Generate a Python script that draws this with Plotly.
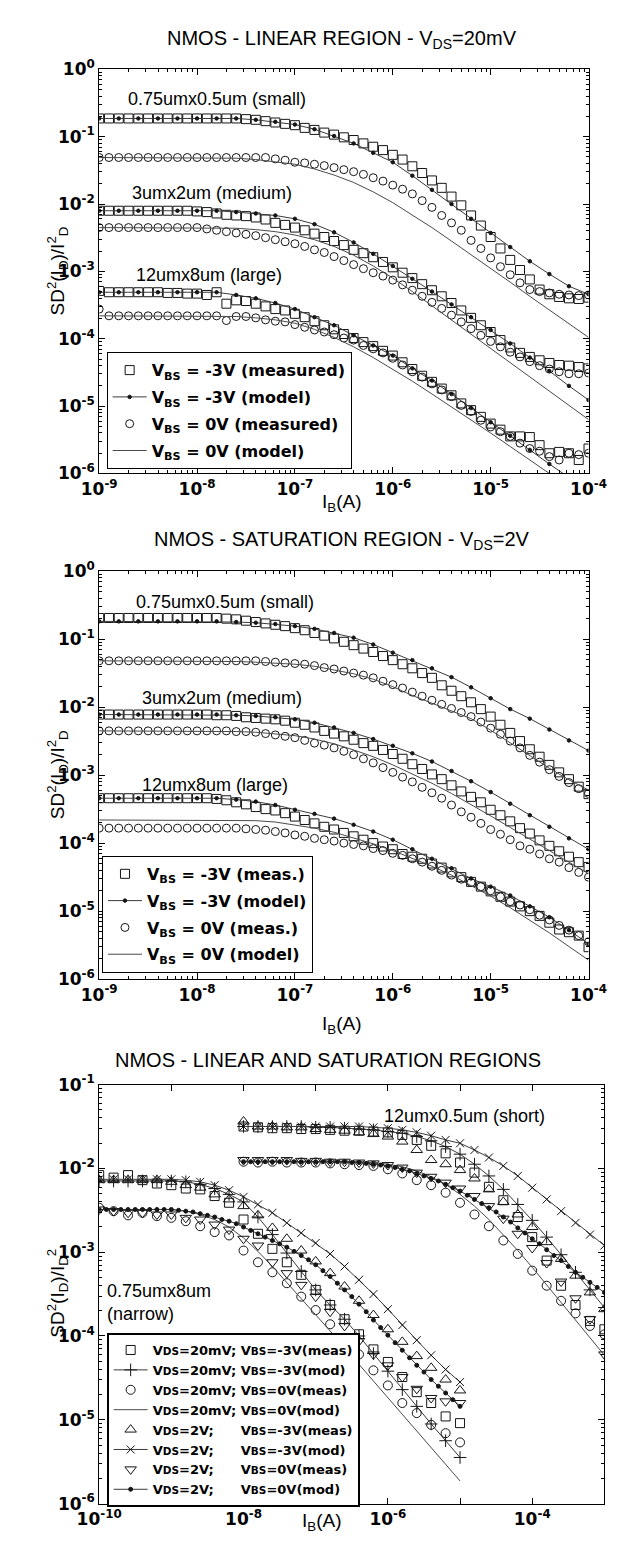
import plotly.graph_objects as go

# ---------------- x grids: log10(I_B / A) ----------------
IB_P12_MEAS = [-9.0, -8.9, -8.8, -8.7, -8.6, -8.5, -8.4, -8.3, -8.2, -8.1, -8.0, -7.9, -7.8, -7.7, -7.6, -7.5, -7.4,
               -7.3, -7.2, -7.1, -7.0, -6.9, -6.8, -6.7, -6.6, -6.5, -6.4, -6.3, -6.2, -6.1, -6.0, -5.9, -5.8, -5.7,
               -5.6, -5.5, -5.4, -5.3, -5.2, -5.1, -5.0, -4.9, -4.8, -4.7, -4.6, -4.5, -4.4, -4.3, -4.2, -4.1, -4.0]
IB_P12_MOD = [-9.0, -8.8, -8.6, -8.4, -8.2, -8.0, -7.8, -7.6, -7.4, -7.2, -7.0, -6.8, -6.6, -6.4, -6.2, -6.0, -5.8,
              -5.6, -5.4, -5.2, -5.0, -4.8, -4.6, -4.4, -4.2, -4.0]
IB_NAR = [-10.0, -9.8, -9.6, -9.4, -9.2, -9.0, -8.8, -8.6, -8.4, -8.2, -8.0, -7.8, -7.6, -7.4, -7.2, -7.0, -6.8,
          -6.6, -6.4, -6.2, -6.0, -5.8, -5.6, -5.4, -5.2, -5.0]
IB_NAR_FINE = [-10.0, -9.9, -9.8, -9.7, -9.6, -9.5, -9.4, -9.3, -9.2, -9.1, -9.0, -8.9, -8.8, -8.7, -8.6, -8.5, -8.4,
               -8.3, -8.2, -8.1, -8.0, -7.9, -7.8, -7.7, -7.6, -7.5, -7.4, -7.3, -7.2, -7.1, -7.0, -6.9, -6.8, -6.7,
               -6.6, -6.5, -6.4, -6.3, -6.2, -6.1, -6.0, -5.9, -5.8, -5.7, -5.6, -5.5, -5.4, -5.3, -5.2, -5.1, -5.0]
IB_SH = [-8.0, -7.8, -7.6, -7.4, -7.2, -7.0, -6.8, -6.6, -6.4, -6.2, -6.0, -5.8, -5.6, -5.4, -5.2, -5.0, -4.8,
         -4.6, -4.4, -4.2, -4.0, -3.8, -3.6, -3.4, -3.2, -3.0]
IB_SH_FINE = [-8.0, -7.9, -7.8, -7.7, -7.6, -7.5, -7.4, -7.3, -7.2, -7.1, -7.0, -6.9, -6.8, -6.7, -6.6, -6.5, -6.4,
              -6.3, -6.2, -6.1, -6.0, -5.9, -5.8, -5.7, -5.6, -5.5, -5.4, -5.3, -5.2, -5.1, -5.0, -4.9, -4.8, -4.7,
              -4.6, -4.5, -4.4, -4.3, -4.2, -4.1, -4.0, -3.9, -3.8, -3.7, -3.6, -3.5, -3.4, -3.3, -3.2, -3.1, -3.0]

# ---------------- Panel 1: linear region, log10(SD^2(ID)/ID^2) ----------------
LIN_SMALL_M3_MEAS = [-0.73, -0.73, -0.73, -0.73, -0.73, -0.73, -0.73, -0.73, -0.73, -0.73, -0.73, -0.73, -0.73, -0.73,
                     -0.73, -0.74, -0.75, -0.77, -0.79, -0.81, -0.83, -0.87, -0.90, -0.94, -0.97, -1.01, -1.05, -1.10,
                     -1.15, -1.20, -1.27, -1.34, -1.44, -1.54, -1.65, -1.76, -1.89, -2.02, -2.17, -2.32, -2.49, -2.66,
                     -2.83, -2.98, -3.12, -3.27, -3.34, -3.38, -3.40, -3.41, -3.39]
LIN_SMALL_M3_MOD = [-0.73, -0.73, -0.73, -0.73, -0.73, -0.73, -0.73, -0.73, -0.75, -0.78, -0.82, -0.89, -0.99, -1.10,
                    -1.24, -1.38, -1.58, -1.79, -2.00, -2.22, -2.43, -2.64, -2.85, -3.04, -3.22, -3.34]
LIN_SMALL_0_MEAS = [-1.31, -1.31, -1.31, -1.31, -1.31, -1.31, -1.31, -1.31, -1.31, -1.31, -1.31, -1.31, -1.31, -1.31,
                    -1.31, -1.31, -1.31, -1.31, -1.33, -1.35, -1.38, -1.39, -1.41, -1.43, -1.46, -1.49, -1.52, -1.56,
                    -1.61, -1.66, -1.72, -1.78, -1.85, -1.95, -2.05, -2.17, -2.28, -2.39, -2.54, -2.66, -2.80, -2.93,
                    -3.05, -3.17, -3.27, -3.30, -3.32, -3.34, -3.35, -3.36, -3.35]
LIN_SMALL_0_MOD = [-1.31, -1.31, -1.31, -1.31, -1.31, -1.31, -1.31, -1.32, -1.34, -1.37, -1.41, -1.48, -1.57, -1.68,
                   -1.82, -1.98, -2.16, -2.35, -2.55, -2.75, -2.95, -3.16, -3.37, -3.57, -3.78, -3.98]
LIN_MED_M3_MEAS = [-2.10, -2.10, -2.10, -2.10, -2.10, -2.10, -2.10, -2.10, -2.10, -2.10, -2.11, -2.12, -2.14, -2.16,
                   -2.17, -2.18, -2.20, -2.23, -2.28, -2.31, -2.35, -2.39, -2.44, -2.49, -2.55, -2.61, -2.68, -2.73,
                   -2.79, -2.86, -2.94, -3.02, -3.10, -3.19, -3.28, -3.37, -3.47, -3.58, -3.69, -3.80, -3.90, -4.02,
                   -4.13, -4.21, -4.27, -4.32, -4.36, -4.39, -4.40, -4.42, -4.44]
LIN_MED_M3_MOD = [-2.10, -2.10, -2.10, -2.10, -2.10, -2.10, -2.10, -2.12, -2.14, -2.17, -2.22, -2.30, -2.42, -2.57,
                  -2.74, -2.92, -3.11, -3.30, -3.49, -3.68, -3.87, -4.07, -4.28, -4.48, -4.70, -4.91]
LIN_MED_0_MEAS = [-2.35, -2.35, -2.35, -2.35, -2.35, -2.35, -2.35, -2.35, -2.35, -2.35, -2.35, -2.37, -2.39, -2.41,
                  -2.43, -2.45, -2.47, -2.50, -2.53, -2.56, -2.59, -2.63, -2.68, -2.72, -2.78, -2.84, -2.90, -2.96,
                  -3.02, -3.07, -3.13, -3.20, -3.28, -3.37, -3.46, -3.55, -3.65, -3.75, -3.85, -3.95, -4.04, -4.12,
                  -4.20, -4.27, -4.34, -4.40, -4.45, -4.49, -4.52, -4.52, -4.51]
LIN_MED_0_MOD = [-2.35, -2.35, -2.35, -2.35, -2.35, -2.35, -2.35, -2.36, -2.38, -2.41, -2.46, -2.53, -2.63, -2.76,
                 -2.92, -3.10, -3.30, -3.51, -3.72, -3.93, -4.14, -4.35, -4.56, -4.77, -4.98, -5.20]
LIN_LARGE_M3_MEAS = [-3.29, -3.31, -3.31, -3.31, -3.31, -3.31, -3.31, -3.32, -3.32, -3.33, -3.33, -3.35, -3.31, -3.48,
                     -3.43, -3.44, -3.48, -3.52, -3.56, -3.58, -3.63, -3.68, -3.74, -3.80, -3.86, -3.93, -3.99, -4.05,
                     -4.11, -4.18, -4.25, -4.35, -4.45, -4.55, -4.64, -4.74, -4.84, -4.96, -5.06, -5.16, -5.26, -5.35,
                     -5.45, -5.45, -5.46, -5.58, -5.70, -5.68, -5.70, -5.80, -5.63]
LIN_LARGE_M3_MOD = [-3.31, -3.31, -3.31, -3.31, -3.31, -3.31, -3.31, -3.35, -3.40, -3.47, -3.56, -3.68, -3.80, -3.95,
                    -4.10, -4.25, -4.44, -4.62, -4.82, -5.03, -5.24, -5.44, -5.65, -5.86, -6.06, -6.26]
LIN_LARGE_0_MEAS = [-3.56, -3.66, -3.66, -3.66, -3.66, -3.66, -3.66, -3.66, -3.66, -3.66, -3.66, -3.66, -3.66, -3.73,
                    -3.67, -3.67, -3.69, -3.72, -3.74, -3.75, -3.79, -3.83, -3.87, -3.90, -3.94, -3.99, -4.02, -4.10,
                    -4.15, -4.21, -4.29, -4.39, -4.49, -4.57, -4.67, -4.76, -4.86, -4.99, -5.08, -5.21, -5.31, -5.38,
                    -5.45, -5.55, -5.63, -5.67, -5.75, -5.80, -5.70, -5.72, -5.70]
LIN_LARGE_0_MOD = [-3.66, -3.66, -3.66, -3.66, -3.66, -3.66, -3.66, -3.67, -3.69, -3.72, -3.77, -3.86, -3.98, -4.12,
                   -4.28, -4.45, -4.63, -4.82, -5.01, -5.20, -5.40, -5.60, -5.80, -6.00, -6.20, -6.40]

# ---------------- Panel 2: saturation region ----------------
SAT_SMALL_M3_MEAS = [-0.69, -0.69, -0.69, -0.69, -0.69, -0.69, -0.69, -0.69, -0.69, -0.69, -0.69, -0.69, -0.69, -0.70,
                     -0.71, -0.73, -0.75, -0.77, -0.79, -0.81, -0.84, -0.87, -0.91, -0.95, -0.99, -1.04, -1.09, -1.14,
                     -1.19, -1.25, -1.31, -1.37, -1.43, -1.50, -1.57, -1.68, -1.76, -1.84, -1.93, -2.03, -2.14, -2.26,
                     -2.38, -2.50, -2.62, -2.73, -2.85, -2.96, -3.06, -3.17, -3.28]
SAT_SMALL_M3_MOD = [-0.74, -0.74, -0.74, -0.74, -0.74, -0.74, -0.74, -0.75, -0.76, -0.78, -0.81, -0.85, -0.91, -0.98,
                    -1.08, -1.20, -1.31, -1.43, -1.56, -1.71, -1.87, -2.03, -2.17, -2.33, -2.49, -2.64]
SAT_SMALL_0_MEAS = [-1.32, -1.32, -1.32, -1.32, -1.32, -1.32, -1.32, -1.32, -1.32, -1.32, -1.32, -1.32, -1.32, -1.32,
                    -1.32, -1.32, -1.32, -1.33, -1.34, -1.35, -1.36, -1.37, -1.39, -1.42, -1.44, -1.47, -1.50, -1.53,
                    -1.57, -1.62, -1.67, -1.72, -1.78, -1.84, -1.90, -1.96, -2.02, -2.08, -2.14, -2.22, -2.31, -2.40,
                    -2.50, -2.60, -2.71, -2.81, -2.92, -3.02, -3.11, -3.20, -3.27]
SAT_SMALL_0_MOD = [-1.32, -1.32, -1.32, -1.32, -1.32, -1.32, -1.32, -1.33, -1.34, -1.35, -1.37, -1.40, -1.45, -1.51,
                   -1.59, -1.70, -1.83, -1.94, -2.05, -2.17, -2.34, -2.53, -2.72, -2.90, -3.07, -3.22]
SAT_MED_M3_MEAS = [-2.11, -2.11, -2.11, -2.11, -2.11, -2.11, -2.11, -2.11, -2.11, -2.11, -2.11, -2.11, -2.12, -2.12,
                   -2.13, -2.15, -2.16, -2.17, -2.18, -2.20, -2.23, -2.26, -2.30, -2.35, -2.39, -2.43, -2.48, -2.53,
                   -2.57, -2.63, -2.69, -2.76, -2.84, -2.91, -2.99, -3.06, -3.15, -3.24, -3.32, -3.40, -3.51, -3.59,
                   -3.68, -3.78, -3.86, -3.96, -4.04, -4.12, -4.20, -4.28, -4.35]
SAT_MED_M3_MOD = [-2.11, -2.11, -2.11, -2.11, -2.11, -2.11, -2.11, -2.12, -2.13, -2.15, -2.18, -2.23, -2.30, -2.38,
                  -2.47, -2.57, -2.68, -2.80, -2.94, -3.09, -3.25, -3.42, -3.59, -3.76, -3.93, -4.09]
SAT_MED_0_MEAS = [-2.35, -2.35, -2.35, -2.35, -2.35, -2.35, -2.35, -2.35, -2.35, -2.35, -2.35, -2.35, -2.35, -2.35,
                  -2.36, -2.36, -2.37, -2.39, -2.41, -2.43, -2.45, -2.49, -2.53, -2.56, -2.60, -2.65, -2.70, -2.76,
                  -2.82, -2.89, -2.96, -3.03, -3.10, -3.18, -3.26, -3.34, -3.44, -3.54, -3.62, -3.71, -3.80, -3.87,
                  -3.95, -4.04, -4.09, -4.16, -4.23, -4.28, -4.36, -4.43, -4.50]
SAT_MED_0_MOD = [-2.35, -2.35, -2.35, -2.35, -2.35, -2.35, -2.35, -2.36, -2.37, -2.39, -2.42, -2.47, -2.54, -2.63,
                 -2.73, -2.85, -2.98, -3.12, -3.27, -3.43, -3.60, -3.77, -3.94, -4.11, -4.28, -4.45]
SAT_LARGE_M3_MEAS = [-3.34, -3.34, -3.34, -3.34, -3.34, -3.34, -3.34, -3.34, -3.34, -3.34, -3.34, -3.34, -3.35, -3.37,
                     -3.40, -3.43, -3.47, -3.50, -3.52, -3.56, -3.61, -3.66, -3.71, -3.76, -3.80, -3.85, -3.90, -3.95,
                     -4.00, -4.05, -4.09, -4.16, -4.20, -4.23, -4.30, -4.36, -4.43, -4.50, -4.57, -4.64, -4.71, -4.79,
                     -4.86, -4.93, -5.00, -5.07, -5.17, -5.27, -5.31, -5.36, -5.53]
SAT_LARGE_M3_MOD = [-3.34, -3.34, -3.34, -3.34, -3.34, -3.34, -3.34, -3.36, -3.39, -3.44, -3.51, -3.57, -3.64, -3.73,
                    -3.83, -3.95, -4.09, -4.23, -4.37, -4.52, -4.64, -4.77, -4.93, -5.09, -5.28, -5.48]
SAT_LARGE_0_MEAS = [-3.78, -3.78, -3.78, -3.78, -3.78, -3.78, -3.78, -3.78, -3.78, -3.78, -3.78, -3.78, -3.78, -3.78,
                    -3.78, -3.79, -3.80, -3.81, -3.83, -3.85, -3.88, -3.90, -3.93, -3.95, -3.97, -4.00, -4.02, -4.04,
                    -4.08, -4.11, -4.15, -4.18, -4.23, -4.28, -4.34, -4.40, -4.47, -4.53, -4.58, -4.64, -4.70, -4.79,
                    -4.86, -4.91, -4.98, -5.06, -5.13, -5.21, -5.28, -5.36, -5.45]
SAT_LARGE_0_MOD = [-3.66, -3.66, -3.66, -3.66, -3.66, -3.66, -3.66, -3.66, -3.67, -3.69, -3.73, -3.78, -3.84, -3.92,
                   -4.01, -4.11, -4.22, -4.34, -4.47, -4.62, -4.78, -4.95, -5.13, -5.32, -5.52, -5.72]

# ---------------- Panel 3: narrow (0.75x8) and short (12x0.5) devices ----------------
NAR_20M_M3_MEAS = [-2.08, -2.11, -2.08, -2.14, -2.18, -2.20, -2.24, -2.25, -2.33, -2.41, -2.61, -2.78, -2.96, -3.12,
                   -3.27, -3.45, -3.63, -3.80, -3.98, -4.16, -4.31, -4.49, -4.67, -4.80, -4.96, -5.04]
NAR_20M_M3_MOD = [-2.15, -2.15, -2.15, -2.15, -2.15, -2.15, -2.16, -2.19, -2.24, -2.31, -2.40, -2.58, -2.79, -3.01,
                  -3.23, -3.45, -3.63, -3.80, -4.00, -4.21, -4.42, -4.64, -4.84, -5.05, -5.25, -5.45]
NAR_20M_0_MEAS = [-2.47, -2.51, -2.56, -2.53, -2.57, -2.59, -2.63, -2.69, -2.76, -2.80, -2.98, -3.12, -3.24, -3.37,
                  -3.53, -3.69, -3.86, -4.04, -4.22, -4.41, -4.59, -4.80, -4.92, -5.06, -5.16, -5.27]
NAR_20M_0_MOD = [-2.49, -2.49, -2.49, -2.49, -2.49, -2.49, -2.51, -2.55, -2.61, -2.70, -2.83, -2.99, -3.17, -3.36,
                 -3.55, -3.74, -3.94, -4.14, -4.34, -4.54, -4.74, -4.94, -5.14, -5.34, -5.53, -5.73]
NAR_2V_M3_MEAS = [-2.14, -2.14, -2.14, -2.14, -2.14, -2.16, -2.20, -2.23, -2.31, -2.37, -2.45, -2.56, -2.71, -2.84,
                  -2.98, -3.11, -3.25, -3.41, -3.58, -3.75, -3.92, -4.07, -4.24, -4.38, -4.52, -4.65]
NAR_2V_M3_MOD = [-2.13, -2.13, -2.13, -2.13, -2.13, -2.13, -2.14, -2.16, -2.20, -2.26, -2.34, -2.43, -2.53, -2.65,
                 -2.77, -2.89, -3.02, -3.17, -3.33, -3.50, -3.68, -3.87, -4.05, -4.23, -4.40, -4.55]
NAR_2V_0_MEAS = [-2.49, -2.51, -2.53, -2.53, -2.55, -2.55, -2.59, -2.61, -2.67, -2.73, -2.84, -2.92, -3.12, -3.25,
                 -3.39, -3.53, -3.71, -3.88, -4.06, -4.22, -4.35, -4.49, -4.63, -4.74, -4.78, -4.80]
NAR_2V_0_MOD = [-2.49, -2.49, -2.49, -2.49, -2.49, -2.49, -2.49, -2.49, -2.49, -2.49, -2.49, -2.50, -2.51, -2.52,
                -2.54, -2.56, -2.58, -2.61, -2.63, -2.66, -2.70, -2.74, -2.78, -2.82, -2.86, -2.90, -2.94, -2.99,
                -3.04, -3.09, -3.15, -3.22, -3.29, -3.37, -3.45, -3.53, -3.62, -3.71, -3.81, -3.90, -3.99, -4.08,
                -4.17, -4.26, -4.35, -4.43, -4.52, -4.60, -4.68, -4.76, -4.84]
SH_20M_M3_MEAS = [-1.50, -1.51, -1.52, -1.52, -1.53, -1.53, -1.54, -1.55, -1.55, -1.56, -1.57, -1.60, -1.66, -1.73,
                  -1.82, -1.93, -2.05, -2.22, -2.38, -2.58, -2.82, -3.10, -3.40, -3.63, -3.82, -3.92]
SH_20M_M3_MOD = [-1.50, -1.50, -1.50, -1.50, -1.50, -1.51, -1.51, -1.52, -1.53, -1.54, -1.56, -1.58, -1.62, -1.67,
                 -1.74, -1.83, -1.95, -2.09, -2.25, -2.43, -2.62, -2.82, -3.03, -3.24, -3.45, -3.66]
SH_20M_0_MEAS = [-1.92, -1.93, -1.92, -1.93, -1.93, -1.93, -1.94, -1.95, -1.96, -1.97, -2.01, -2.06, -2.14, -2.20,
                 -2.29, -2.41, -2.55, -2.69, -2.86, -3.02, -3.22, -3.40, -3.58, -3.73, -3.88, -3.98]
SH_20M_0_MOD = [-1.92, -1.92, -1.92, -1.92, -1.92, -1.92, -1.92, -1.92, -1.92, -1.93, -1.95, -1.98, -2.03, -2.10,
                -2.19, -2.31, -2.45, -2.61, -2.79, -2.98, -3.18, -3.39, -3.60, -3.81, -4.02, -4.23]
SH_2V_M3_MEAS = [-1.44, -1.50, -1.50, -1.51, -1.51, -1.53, -1.54, -1.55, -1.57, -1.59, -1.62, -1.68, -1.78, -1.90,
                 -1.95, -2.02, -2.12, -2.25, -2.40, -2.55, -2.70, -2.88, -3.08, -3.28, -3.48, -3.68]
SH_2V_M3_MOD = [-1.50, -1.50, -1.50, -1.50, -1.50, -1.50, -1.50, -1.50, -1.50, -1.51, -1.52, -1.54, -1.57, -1.61,
                -1.66, -1.70, -1.78, -1.87, -1.97, -2.09, -2.23, -2.37, -2.51, -2.65, -2.79, -2.92]
SH_2V_0_MEAS = [-1.90, -1.90, -1.90, -1.90, -1.91, -1.91, -1.92, -1.92, -1.93, -1.94, -1.96, -1.99, -2.05, -2.10,
                -2.17, -2.24, -2.33, -2.45, -2.60, -2.78, -2.95, -3.13, -3.35, -3.55, -3.80, -4.22]
SH_2V_0_MOD = [-1.92, -1.92, -1.92, -1.92, -1.92, -1.92, -1.92, -1.92, -1.92, -1.92, -1.92, -1.92, -1.92, -1.92,
               -1.92, -1.93, -1.93, -1.94, -1.95, -1.96, -1.97, -1.99, -2.01, -2.03, -2.06, -2.09, -2.12, -2.15,
               -2.19, -2.23, -2.27, -2.32, -2.37, -2.42, -2.47, -2.52, -2.58, -2.64, -2.71, -2.77, -2.84, -2.90,
               -2.97, -3.04, -3.10, -3.17, -3.24, -3.30, -3.36, -3.42, -3.48]

# ---------------- labels ----------------
TITLES = ["NMOS - LINEAR REGION - V<sub>DS</sub>=20mV",
          "NMOS - SATURATION REGION - V<sub>DS</sub>=2V",
          "NMOS - LINEAR AND SATURATION REGIONS"]
DEVICE_LABELS_P12 = ["0.75umx0.5um (small)", "3umx2um (medium)", "12umx8um (large)"]
P1_LEGEND = ["V<sub>BS</sub> = -3V (measured)", "V<sub>BS</sub> = -3V (model)",
             "V<sub>BS</sub> = 0V (measured)", "V<sub>BS</sub> = 0V (model)"]
P2_LEGEND = ["V<sub>BS</sub> = -3V (meas.)", "V<sub>BS</sub> = -3V (model)",
             "V<sub>BS</sub> = 0V (meas.)", "V<sub>BS</sub> = 0V (model)"]
SC = "<span style='font-size:10.5px'>{}</span>"
VDS = "V" + SC.format("DS")
VBS = "V" + SC.format("BS")
PAD = "\u00a0" * 6
P3_LEGEND = [VDS + "=20mV; " + VBS + "=-3V(meas)", VDS + "=20mV; " + VBS + "=-3V(mod)",
             VDS + "=20mV; " + VBS + "=0V(meas)", VDS + "=20mV; " + VBS + "=0V(mod)",
             VDS + "=2V;" + PAD + VBS + "=-3V(meas)", VDS + "=2V;" + PAD + VBS + "=-3V(mod)",
             VDS + "=2V;" + PAD + VBS + "=0V(meas)", VDS + "=2V;" + PAD + VBS + "=0V(mod)"]

FONT = "Liberation Sans, Arial, Helvetica, sans-serif"
BFONT = "DejaVu Sans, Liberation Sans, sans-serif"
INK = "#151515"
LINEC = "#3a3a3a"
LINE0 = "#4a4a4a"
W, H = 620, 1545


def px_x(p):
    return p / W


def px_y(p):
    return 1 - p / H


def joined(xgroups, ygroups):
    xs, ys = [], []
    for xe, ye in zip(xgroups, ygroups):
        xs += [10 ** e for e in xe] + [None]
        ys += [10 ** v for v in ye] + [None]
    return xs, ys


fig = go.Figure()
_count = [0]


def add(name, xg, yg, ax, legend, mode, symbol=None, msize=8, lw=1.0, mlw=1.0, lcolor=LINEC):
    xs, ys = joined(xg, yg)
    _count[0] += 1
    kw = dict(x=xs, y=ys, name="<b>" + name + "</b>", mode=mode, xaxis=ax[0], yaxis=ax[1],
              legend=legend, legendgroup="g%d" % _count[0], connectgaps=False, hoverinfo="skip")
    if "lines" in mode:
        kw["line"] = dict(color=lcolor, width=lw)
    if "markers" in mode:
        kw["marker"] = dict(symbol=symbol, size=msize, color=INK, line=dict(color=INK, width=mlw))
    fig.add_trace(go.Scatter(**kw))


# panel 1
m12 = [IB_P12_MEAS] * 3
d12 = [IB_P12_MOD] * 3
add(P1_LEGEND[0], m12, [LIN_SMALL_M3_MEAS, LIN_MED_M3_MEAS, LIN_LARGE_M3_MEAS], ("x", "y"), "legend", "markers", "square-open", 9)
add(P1_LEGEND[1], d12, [LIN_SMALL_M3_MOD, LIN_MED_M3_MOD, LIN_LARGE_M3_MOD], ("x", "y"), "legend", "lines+markers", "circle", 3.5)
add(P1_LEGEND[2], m12, [LIN_SMALL_0_MEAS, LIN_MED_0_MEAS, LIN_LARGE_0_MEAS], ("x", "y"), "legend", "markers", "circle-open", 8)
add(P1_LEGEND[3], d12, [LIN_SMALL_0_MOD, LIN_MED_0_MOD, LIN_LARGE_0_MOD], ("x", "y"), "legend", "lines", lcolor=LINE0)
# panel 2
add(P2_LEGEND[0], m12, [SAT_SMALL_M3_MEAS, SAT_MED_M3_MEAS, SAT_LARGE_M3_MEAS], ("x2", "y2"), "legend2", "markers", "square-open", 9)
add(P2_LEGEND[1], d12, [SAT_SMALL_M3_MOD, SAT_MED_M3_MOD, SAT_LARGE_M3_MOD], ("x2", "y2"), "legend2", "lines+markers", "circle", 3.5)
add(P2_LEGEND[2], m12, [SAT_SMALL_0_MEAS, SAT_MED_0_MEAS, SAT_LARGE_0_MEAS], ("x2", "y2"), "legend2", "markers", "circle-open", 8)
add(P2_LEGEND[3], d12, [SAT_SMALL_0_MOD, SAT_MED_0_MOD, SAT_LARGE_0_MOD], ("x2", "y2"), "legend2", "lines", lcolor=LINE0)
# panel 3
g3 = [IB_NAR, IB_SH]
g3f = [IB_NAR_FINE, IB_SH_FINE]
a3 = ("x3", "y3")
add(P3_LEGEND[0], g3, [NAR_20M_M3_MEAS, SH_20M_M3_MEAS], a3, "legend3", "markers", "square-open", 9)
add(P3_LEGEND[1], g3, [NAR_20M_M3_MOD, SH_20M_M3_MOD], a3, "legend3", "lines+markers", "cross-thin-open", 9)
add(P3_LEGEND[2], g3, [NAR_20M_0_MEAS, SH_20M_0_MEAS], a3, "legend3", "markers", "circle-open", 9)
add(P3_LEGEND[3], g3, [NAR_20M_0_MOD, SH_20M_0_MOD], a3, "legend3", "lines", lcolor=LINE0)
add(P3_LEGEND[4], g3, [NAR_2V_M3_MEAS, SH_2V_M3_MEAS], a3, "legend3", "markers", "triangle-up-open", 10)
add(P3_LEGEND[5], g3, [NAR_2V_M3_MOD, SH_2V_M3_MOD], a3, "legend3", "lines+markers", "x-thin-open", 8)
add(P3_LEGEND[6], g3, [NAR_2V_0_MEAS, SH_2V_0_MEAS], a3, "legend3", "markers", "triangle-down-open", 10)
add(P3_LEGEND[7], g3f, [NAR_2V_0_MOD, SH_2V_0_MOD], a3, "legend3", "lines+markers", "circle", 4)


def decade_labels(lo, hi, every=1):
    vals, txt = [], []
    for e in range(lo, hi + 1):
        vals.append(10.0 ** e)
        txt.append("<b>10<sup>%d</sup></b>" % e if (e - lo) % every == 0 else "")
    return vals, txt


def minors(lo, hi):
    return [m * 10.0 ** e for e in range(lo, hi) for m in range(2, 10)]


def axis(domain, lo, hi, anchor, every=1, minor=True, lab_size=17):
    vals, txt = decade_labels(lo, hi, every)
    d = dict(type="log", domain=domain, range=[lo, hi], anchor=anchor, tickmode="array",
             tickvals=vals, ticktext=txt, ticks="inside", ticklen=6, tickwidth=1, tickcolor="black",
             showline=True, linecolor="black", linewidth=1, mirror="ticks", showgrid=False,
             zeroline=False, tickfont=dict(family=BFONT, size=lab_size, color="black"))
    if minor:
        d["minor"] = dict(tickmode="array", tickvals=minors(lo, hi), ticks="inside", ticklen=3,
                          tickwidth=1, tickcolor="black", showgrid=False)
    return d


XD12 = [px_x(73), px_x(597)]
XD3 = [px_x(73), px_x(614)]
YD1 = [px_y(460), px_y(50)]
YD2 = [px_y(973), px_y(559)]
YD3 = [px_y(1505), px_y(1080)]

leg_common = dict(xanchor="left", yanchor="top", bgcolor="white", bordercolor="black", itemwidth=34)

fig.update_layout(
    width=W, height=H, margin=dict(l=0, r=0, t=0, b=0), autosize=False,
    paper_bgcolor="white", plot_bgcolor="white", font=dict(family=FONT, color="black"),
    showlegend=True,
    xaxis=axis(XD12, -9, -4, "y"), yaxis=axis(YD1, -6, 0, "x"),
    xaxis2=axis(XD12, -9, -4, "y2"), yaxis2=axis(YD2, -6, 0, "x2"),
    xaxis3=axis(XD3, -10, -3, "y3", every=2, minor=False), yaxis3=axis(YD3, -6, -1, "x3"),
    legend=dict(x=px_x(81), y=px_y(337), borderwidth=1, tracegroupgap=3,
                font=dict(family=BFONT, size=16, color="black"), **leg_common),
    legend2=dict(x=px_x(76), y=px_y(848), borderwidth=1, tracegroupgap=3,
                 font=dict(family=BFONT, size=16, color="black"), **leg_common),
    legend3=dict(x=px_x(81), y=px_y(1332), borderwidth=2, tracegroupgap=0,
                 font=dict(family=BFONT, size=13, color="black"), **leg_common),
)

ann = []
# titles
for t, cx, cy in zip(TITLES, [333, 333, 318], [20, 528, 1055]):
    ann.append(dict(text=t, x=px_x(cx), y=px_y(cy), xref="paper", yref="paper", showarrow=False,
                    xanchor="center", yanchor="middle", font=dict(family=FONT, size=20, color="black")))
# axis titles
for cx, cy in [(333, 490), (333, 1020), (311, 1524)]:
    ann.append(dict(text="I<sub>B</sub>(A)", x=px_x(cx), y=px_y(cy), xref="paper", yref="paper", showarrow=False,
                    xanchor="center", yanchor="middle", font=dict(family=FONT, size=19, color="black")))
for cy, txt in [(255, "SD<sup>2</sup>(I<sub>D</sub>)/I<sup>2</sup><sub>D</sub>"),
                (766, "SD<sup>2</sup>(I<sub>D</sub>)/I<sup>2</sup><sub>D</sub>"),
                (1292, "SD<sup>2</sup>(I<sub>D</sub>)/I<sub>D</sub><sup>2</sup>")]:
    ann.append(dict(text=txt, x=px_x(28), y=px_y(cy), xref="paper", yref="paper", showarrow=False, textangle=-90,
                    xanchor="center", yanchor="middle", font=dict(family=FONT, size=19, color="black")))
# device labels
for (xr, yr), pos in [(("x", "y"), [(-8.73, -0.44), (-8.68, -1.84), (-8.64, -3.05)]),
                      (("x2", "y2"), [(-8.64, -0.45), (-8.58, -1.87), (-8.58, -3.15)])]:
    for lab, (lx, ly) in zip(DEVICE_LABELS_P12, pos):
        ann.append(dict(text=lab, x=lx, y=ly, xref=xr, yref=yr, showarrow=False, xanchor="left",
                        yanchor="middle", font=dict(family=FONT, size=18, color="black")))
ann.append(dict(text="12umx0.5um (short)", x=-6.08, y=-1.37, xref="x3", yref="y3", showarrow=False,
                xanchor="left", yanchor="middle", font=dict(family=FONT, size=18, color="black")))
ann.append(dict(text="0.75umx8um<br>(narrow)", x=-9.92, y=-3.6, xref="x3", yref="y3", showarrow=False,
                xanchor="left", yanchor="middle", align="left", font=dict(family=FONT, size=18, color="black")))
fig.update_layout(annotations=ann)

fig.write_html("out.html")
